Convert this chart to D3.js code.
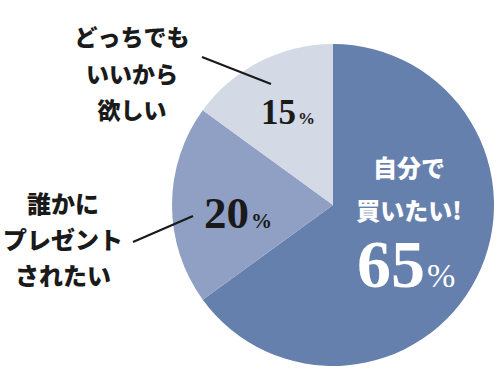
<!DOCTYPE html>
<html><head><meta charset="utf-8">
<script src="https://cdn.jsdelivr.net/npm/d3@7"></script>
<style>html,body{margin:0;padding:0;background:#fff;}svg{display:block;}</style>
</head><body>
<svg id="c" width="500" height="391"></svg>
<script>
const categories = ["自分で買いたい!", "誰かにプレゼントされたい", "どっちでもいいから欲しい"];
const values = [65, 20, 15];
const colors = ["#6680ad", "#8fa0c4", "#d3d9e5"];

const W = 500, H = 391, cx = 333, cy = 205, R = 161;
const svg = d3.select("#c");
const g = svg.append("g").attr("transform", `translate(${cx},${cy})`);

const pie = d3.pie().sort(null).value(d => d)(values);
const arc = d3.arc().innerRadius(0).outerRadius(R);

g.selectAll("path").data(pie).enter().append("path")
  .attr("d", arc).attr("fill", (d, i) => colors[i]);

const serif = "'Liberation Serif', 'DejaVu Serif', serif";
const gothic = "'Noto Sans CJK JP', 'Noto Sans', sans-serif";

// percent label layout
const pctLayout = [
  { x: 357, y: 287, n: 68, p: 34, c: "#ffffff", w: "normal" },
  { x: 204, y: 228, n: 45, p: 21, c: "#1a1a1a", w: "bold" },
  { x: 261, y: 124, n: 35, p: 17, c: "#1a1a1a", w: "bold" }
];
values.forEach((v, i) => {
  const L = pctLayout[i];
  const t = svg.append("text").attr("x", L.x).attr("y", L.y)
    .style("font-family", serif).attr("fill", L.c);
  t.append("tspan").style("font-size", L.n + "px").style("font-weight", "bold").text(v);
  t.append("tspan").style("font-size", L.p + "px").style("font-weight", L.w).attr("dx", 2).text("%");
});

// category labels
const catLines = [
  ["自分で", "買いたい!"],
  ["誰かに", "プレゼント", "されたい"],
  ["どっちでも", "いいから", "欲しい"]
];
const catLayout = [
  { x: 409, y: 177, dy: 43, c: "#ffffff", s: 24 },
  { x: 63, y: 213, dy: 36, c: "#1a1a1a", s: 24 },
  { x: 132, y: 46, dy: 36.5, c: "#1a1a1a", s: 23 }
];
catLines.forEach((lines, i) => {
  const L = catLayout[i];
  lines.forEach((s, j) => {
    svg.append("text").attr("x", L.x).attr("y", L.y + j * L.dy)
      .attr("text-anchor", "middle").style("font-family", gothic)
      .style("font-weight", 900).style("font-size", L.s + "px").attr("fill", L.c).text(s);
  });
});

// leader lines
const leaders = [
  [[202, 57], [271, 84]],
  [[133, 242], [193, 216]]
];
leaders.forEach(p => {
  svg.append("path").attr("d", d3.line()(p)).attr("stroke", "#1a1a1a")
    .attr("stroke-width", 2.2).attr("fill", "none");
});
</script>
</body></html>
